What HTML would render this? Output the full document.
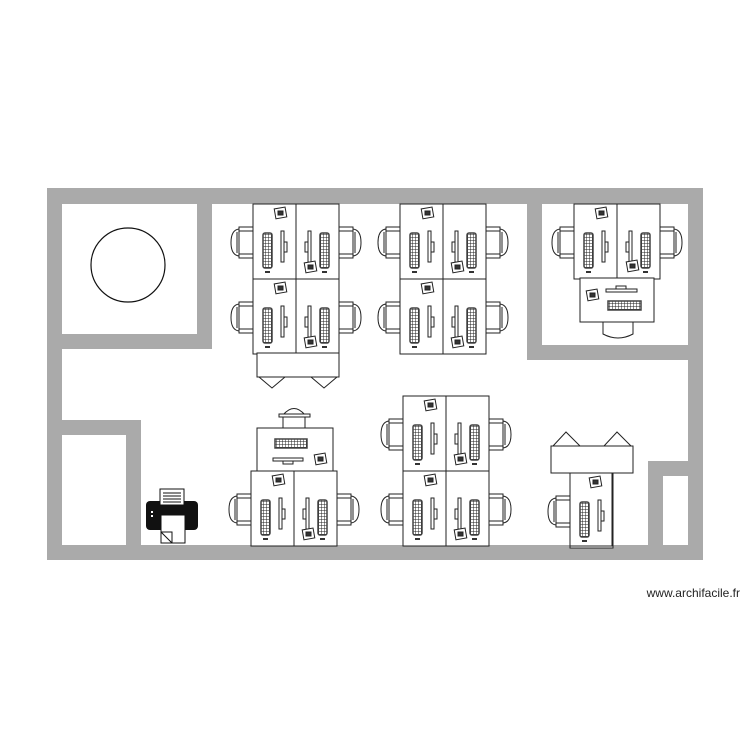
<!DOCTYPE html>
<html><head><meta charset="utf-8"><style>
html,body{margin:0;padding:0;background:#fff;}
svg{display:block}
</style></head><body>
<svg width="750" height="750" viewBox="0 0 750 750" xmlns="http://www.w3.org/2000/svg">
<defs>
  <pattern id="kb" width="3" height="3" patternUnits="userSpaceOnUse">
    <rect width="3" height="3" fill="#fff"/>
    <path d="M0 0H3M0 0V3" stroke="#222" stroke-width="1"/>
  </pattern>
  <g id="chair" fill="#fff" stroke="#222" stroke-width="1">
    <rect x="-14" y="0" width="14" height="4"/>
    <rect x="-14" y="27" width="14" height="4"/>
    <path d="M-14 2 Q-22 3 -22 15.5 Q-22 28 -14 29 Z"/>
    <line x1="-16" y1="5" x2="-16" y2="26"/>
  </g>
  <g id="phone" fill="#fff" stroke="#222" stroke-width="1">
    <rect x="0" y="0" width="11" height="10" transform="rotate(-10 5 5)"/>
    <rect x="3" y="3" width="5" height="4" fill="#333"/>
  </g>
  <g id="cell">
    <rect x="0" y="0" width="43" height="75" fill="#fff" stroke="#222" stroke-width="1"/>
    <use href="#chair" x="0" y="23"/>
    <rect x="10" y="29" width="9" height="35" rx="2" fill="url(#kb)" stroke="#444" stroke-width="1.5"/>
    <rect x="28" y="27" width="3" height="31" fill="#fff" stroke="#222" stroke-width="1"/>
    <rect x="31" y="38" width="3" height="10" fill="#fff" stroke="#222" stroke-width="1"/>
    <rect x="12" y="67" width="5" height="2" fill="#333"/>
  </g>
</defs>

<!-- walls -->
<g fill="#aaaaaa">
  <rect x="47" y="188" width="656" height="16"/>
  <rect x="47" y="545" width="656" height="15"/>
  <rect x="47" y="188" width="15" height="372"/>
  <rect x="688" y="188" width="15" height="372"/>
  <rect x="197" y="188" width="15" height="161"/>
  <rect x="47" y="334" width="165" height="15"/>
  <rect x="47" y="420" width="94" height="15"/>
  <rect x="126" y="420" width="15" height="140"/>
  <rect x="527" y="188" width="15" height="172"/>
  <rect x="527" y="345" width="176" height="15"/>
  <rect x="648" y="461" width="55" height="15"/>
  <rect x="648" y="461" width="15" height="99"/>
</g>

<circle cx="128" cy="265" r="37" fill="#fff" stroke="#111" stroke-width="1.2"/>

<!-- Cluster A -->
<use href="#cell" x="253" y="204"/>
<use href="#cell" transform="translate(339 204) scale(-1 1)"/>
<use href="#cell" x="253" y="279"/>
<use href="#cell" transform="translate(339 279) scale(-1 1)"/>
<use href="#phone" x="275" y="208"/><use href="#phone" x="305" y="262"/>
<use href="#phone" x="275" y="283"/><use href="#phone" x="305" y="337"/>
<rect x="257" y="353" width="82" height="24" fill="#fff" stroke="#222"/>
<path d="M259 377 L272 388 L285 377 M311 377 L324 388 L337 377" fill="none" stroke="#222"/>

<!-- Cluster B -->
<use href="#cell" x="400" y="204"/>
<use href="#cell" transform="translate(486 204) scale(-1 1)"/>
<use href="#cell" x="400" y="279"/>
<use href="#cell" transform="translate(486 279) scale(-1 1)"/>
<use href="#phone" x="422" y="208"/><use href="#phone" x="452" y="262"/>
<use href="#phone" x="422" y="283"/><use href="#phone" x="452" y="337"/>

<!-- Cluster C -->
<use href="#cell" x="574" y="204"/>
<use href="#cell" transform="translate(660 204) scale(-1 1)"/>
<use href="#phone" x="596" y="208"/><use href="#phone" x="627" y="261"/>
<g>
  <path d="M603 322 V334 Q618 342 633 334 V322" fill="#fff" stroke="#222"/>
  <rect x="580" y="278" width="74" height="44" fill="#fff" stroke="#222"/>
  <rect x="608" y="301" width="33" height="9" fill="url(#kb)" stroke="#444" stroke-width="1.5"/>
  <rect x="606" y="289" width="31" height="3" fill="#fff" stroke="#222"/>
  <rect x="616" y="286" width="10" height="3" fill="#fff" stroke="#222"/>
  <use href="#phone" x="587" y="290"/>
</g>

<!-- Cluster D -->
<use href="#cell" x="403" y="396"/>
<use href="#cell" transform="translate(489 396) scale(-1 1)"/>
<use href="#cell" x="403" y="471"/>
<use href="#cell" transform="translate(489 471) scale(-1 1)"/>
<use href="#phone" x="425" y="400"/><use href="#phone" x="455" y="454"/>
<use href="#phone" x="425" y="475"/><use href="#phone" x="455" y="529"/>

<!-- Cluster E -->
<path d="M283 428 V415 Q294 402 305 415 V428" fill="#fff" stroke="#222"/>
<rect x="279" y="414" width="31" height="3" fill="#fff" stroke="#222"/>
<rect x="257" y="428" width="76" height="43" fill="#fff" stroke="#222"/>
<rect x="275" y="439" width="32" height="9" fill="url(#kb)" stroke="#444" stroke-width="1.5"/>
<rect x="273" y="458" width="30" height="3" fill="#fff" stroke="#222"/>
<rect x="283" y="461" width="10" height="3" fill="#fff" stroke="#222"/>
<use href="#phone" x="315" y="454"/>
<use href="#cell" x="251" y="471"/>
<use href="#cell" transform="translate(337 471) scale(-1 1)"/>
<use href="#phone" x="273" y="475"/><use href="#phone" x="303" y="529"/>

<!-- Cluster F -->
<rect x="551" y="446" width="82" height="27" fill="#fff" stroke="#222"/>
<path d="M553 446 L566 432 L580 446 M604 446 L617 432 L631 446" fill="none" stroke="#222"/>
<use href="#cell" x="570" y="473"/>
<rect x="570" y="473" width="42" height="73" fill="none" stroke="#222"/>
<use href="#phone" x="590" y="477"/>

<!-- Printer -->
<rect x="146" y="501" width="52" height="29" rx="4" fill="#111"/>
<rect x="160" y="489" width="24" height="16" fill="#fff" stroke="#111"/>
<path d="M163 493H181M163 496H181M163 499H181M163 502H181" stroke="#111"/>
<rect x="161" y="515" width="24" height="28" fill="#fff" stroke="#111"/>
<path d="M161 532 L172 543 M161 532 H172 V543" stroke="#111" fill="none"/>
<rect x="151" y="511" width="2" height="2" fill="#fff"/>
<rect x="151" y="515" width="2" height="2" fill="#fff"/>

<text x="740" y="597" text-anchor="end" font-family="Liberation Sans, sans-serif" font-size="12" fill="#222">www.archifacile.fr</text>
</svg>
</body></html>
